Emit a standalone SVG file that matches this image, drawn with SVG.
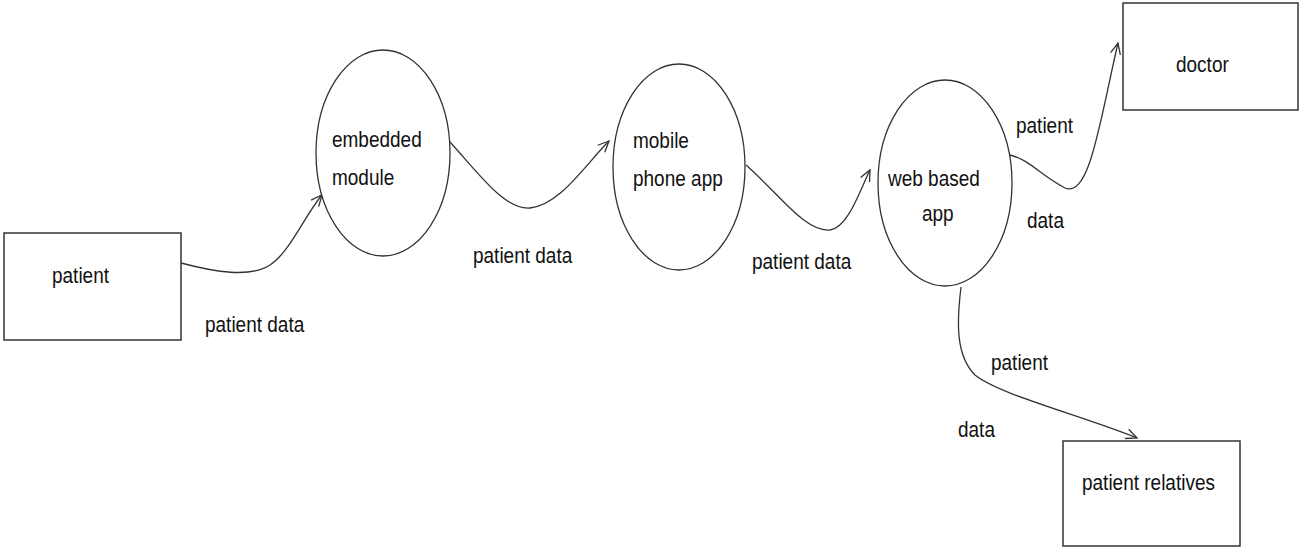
<svg xmlns="http://www.w3.org/2000/svg" width="1299" height="548" viewBox="0 0 1299 548">
<style>
.box{fill:#fff;stroke:#333;stroke-width:1.5}
.proc{fill:#fff;stroke:#333;stroke-width:1.3}
.conn{fill:none;stroke:#333;stroke-width:1.3}
text{font-family:"Liberation Sans",Arial,sans-serif;font-size:19px;fill:#111}
</style>
<defs>
<marker id="arr" viewBox="-12 -6 14 12" refX="0" refY="0" markerWidth="14" markerHeight="12" markerUnits="userSpaceOnUse" orient="auto">
<path d="M-11,-5 L0,0 L-11,5" fill="none" stroke="#333" stroke-width="1.3"/>
</marker>
</defs>
<rect width="1299" height="548" fill="#fff"/>
<g id="connectors">
<path class="conn" marker-end="url(#arr)" d="M181,263 C215,272 250,278 270,265 C290,252 305,215 322,195"/>
<path class="conn" marker-end="url(#arr)" d="M450,142 C480,175 505,210 530,208 C560,205 585,165 609,141"/>
<path class="conn" marker-end="url(#arr)" d="M746,165 C780,195 805,232 830,230 C848,228 860,190 870,170"/>
<path class="conn" marker-end="url(#arr)" d="M1010,155 C1030,160 1040,175 1065,188 C1090,198 1100,120 1118,43"/>
<path class="conn" marker-end="url(#arr)" d="M961,287 C957,320 955,355 975,375 C1000,395 1080,415 1137,438"/>
</g>
<g id="labels">
<text transform="translate(205,332) scale(1,1.12)">patient data</text>
<text transform="translate(473,263) scale(1,1.12)">patient data</text>
<text transform="translate(752,269) scale(1,1.12)">patient data</text>
<text transform="translate(1016,133) scale(1,1.12)">patient</text>
<text transform="translate(1027,228) scale(1,1.12)">data</text>
<text transform="translate(991,370) scale(1,1.12)">patient</text>
<text transform="translate(958,437) scale(1,1.12)">data</text>
</g>
<g id="patient">
<rect class="box" x="4" y="233" width="177" height="107"/>
<text transform="translate(52,283) scale(1,1.12)">patient</text>
</g>
<g id="embedded-module">
<ellipse class="proc" cx="383" cy="153" rx="67" ry="103"/>
<text transform="translate(332,147) scale(1,1.12)">embedded</text>
<text transform="translate(332,185) scale(1,1.12)">module</text>
</g>
<g id="mobile-phone-app">
<ellipse class="proc" cx="679" cy="167" rx="66" ry="103"/>
<text transform="translate(633,148) scale(1,1.12)">mobile</text>
<text transform="translate(633,186) scale(1,1.12)">phone app</text>
</g>
<g id="web-based-app">
<ellipse class="proc" cx="945" cy="183" rx="67" ry="103"/>
<text transform="translate(888,186) scale(1,1.12)">web based</text>
<text transform="translate(922,221) scale(1,1.12)">app</text>
</g>
<g id="doctor">
<rect class="box" x="1123" y="3" width="175" height="107"/>
<text transform="translate(1176,72) scale(1,1.12)">doctor</text>
</g>
<g id="patient-relatives">
<rect class="box" x="1063" y="441" width="177" height="105"/>
<text transform="translate(1082,490) scale(1,1.12)">patient relatives</text>
</g>
</svg>
